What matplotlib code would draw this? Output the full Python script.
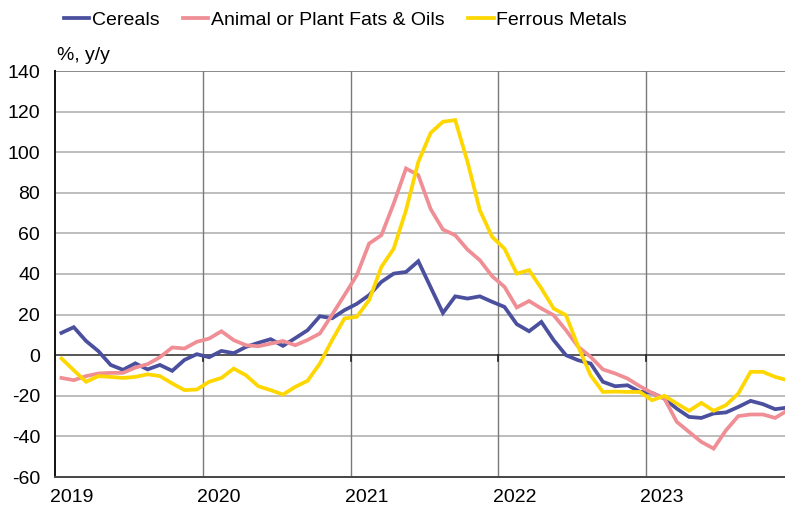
import matplotlib
matplotlib.use("Agg")
import matplotlib.pyplot as plt
from matplotlib.transforms import blended_transform_factory
import numpy as np

plt.rcParams['font.family'] = ['Liberation Sans', 'DejaVu Sans']

years = ["2019", "2020", "2021", "2022", "2023"]
months_per_year = 12

cereals = [11.0, 13.8, 7.0, 2.0, -4.8, -7.2, -4.0, -7.0, -4.8, -7.7, -2.3, 0.5,
           -1.0, 2.1, 1.0, 4.1, 6.1, 7.9, 4.6, 8.4, 12.3, 19.2, 18.2, 22.2,
           25.3, 29.6, 36.1, 40.2, 41.0, 46.3, 33.5, 20.8, 29.0, 27.9, 29.0, 26.3,
           23.8, 15.3, 11.8, 16.4, 7.4, 0.0, -2.5, -4.1, -13.1, -15.3, -14.8, -18.0,
           -18.6, -21.4, -26.3, -30.4, -30.9, -28.7, -28.2, -25.5, -22.5, -24.1, -26.6, -25.8]

fats_oils = [-11.2, -12.3, -10.3, -9.0, -8.7, -8.7, -6.1, -4.4, -1.0, 3.8, 3.3, 6.6,
             8.2, 11.8, 7.4, 4.9, 4.4, 5.7, 7.0, 4.9, 7.5, 10.7, 20.0, 29.6,
             39.4, 55.0, 59.1, 74.7, 92.0, 88.7, 72.0, 61.9, 59.1, 52.0, 46.8, 38.9,
             33.7, 23.5, 26.7, 23.0, 19.7, 12.3, 4.1, -0.8, -7.0, -9.0, -11.5, -15.3,
             -18.6, -21.4, -32.8, -37.8, -42.7, -46.0, -37.0, -30.0, -29.2, -29.2, -30.9, -27.2]

ferrous_metals = [-1.6, -7.4, -13.1, -10.3, -10.7, -11.2, -10.7, -9.4, -10.3, -13.9, -17.2, -16.9,
                  -13.1, -11.2, -6.6, -9.9, -15.3, -17.2, -19.4, -15.6, -12.6, -4.1, 7.5, 18.1,
                  18.9, 27.1, 43.5, 52.5, 71.4, 95.2, 109.5, 115.0, 115.8, 95.2, 71.4, 58.3,
                  52.5, 40.2, 41.9, 32.9, 23.0, 19.7, 4.1, -9.9, -18.1, -17.9, -18.1, -18.1,
                  -22.2, -20.0, -23.8, -27.4, -23.5, -27.4, -24.6, -18.9, -8.2, -8.2, -10.7, -12.3]

series_names = ["Cereals", "Animal or Plant Fats & Oils", "Ferrous Metals"]
colors = ["#4A4F9E", "#EF8F95", "#FFD700"]

W, H = 785, 507
fig = plt.figure(figsize=(W / 100, H / 100), dpi=100)
left_px, top_px, bottom_px = 55.3, 71.0, 477.0
ax = fig.add_axes([left_px / W, 1 - bottom_px / H, 1 - left_px / W, (bottom_px - top_px) / H])

n = len(cereals)
x = np.arange(n)
px_per_month = (646 - 203) / 36.0
right_lim = (W - left_px) / px_per_month - 0.5
ax.set_xlim(-0.5, right_lim)
ax.set_ylim(-60, 140)

# grid
for yv in range(-60, 141, 20):
    if yv in (-60, 0):
        continue
    ax.axhline(yv, color="#BDBDBD", lw=1.4, zorder=1)
ax.axhline(140, color="#8A8A8A", lw=1.4, zorder=1)
for k in range(1, len(years)):
    ax.axvline(k * months_per_year - 0.5, color="#7A7A7A", lw=1.0, zorder=1)
ax.axhline(0, color="#555555", lw=1.4, zorder=2)
for k in range(1, len(years)):
    ax.plot([k * 12 - 0.5, k * 12 - 0.5], [0, -2.8], color="#222222", lw=1.2, zorder=2)

lines = []
for data, name, c in zip([cereals, fats_oils, ferrous_metals], series_names, colors):
    ln, = ax.plot(x, data, color=c, lw=2.7, label=name, zorder=3, solid_joinstyle='miter')
    lines.append(ln)

for s in ["top", "right"]:
    ax.spines[s].set_visible(False)
ax.spines["left"].set_color("#111111")
ax.spines["left"].set_linewidth(1.4)
ax.spines["bottom"].set_color("#444444")
ax.spines["bottom"].set_linewidth(1.4)

ax.set_yticks(range(-60, 141, 20))
ax.set_yticklabels([str(v) for v in range(-60, 141, 20)], fontsize=14)
ax.tick_params(axis="y", length=0, pad=11)
ax.set_xticks([])

trans = blended_transform_factory(ax.transData, fig.transFigure)
for k, yr in enumerate(years):
    ax.text(k * 12 - 0.5 - 0.45, 1 - 497 / H, yr, transform=trans, ha="left", va="center", fontsize=14)

fig.text(57 / W, 1 - 55 / H, "%, y/y", ha="left", va="center", fontsize=14)

fig.legend(handles=lines, loc="center left", bbox_to_anchor=(64 / W, 1 - 20 / H), ncol=3,
           frameon=False, fontsize=14, handlelength=1.3, handletextpad=0.15,
           columnspacing=1.2, borderpad=0, borderaxespad=0)

fig.savefig("out.png", dpi=100)
